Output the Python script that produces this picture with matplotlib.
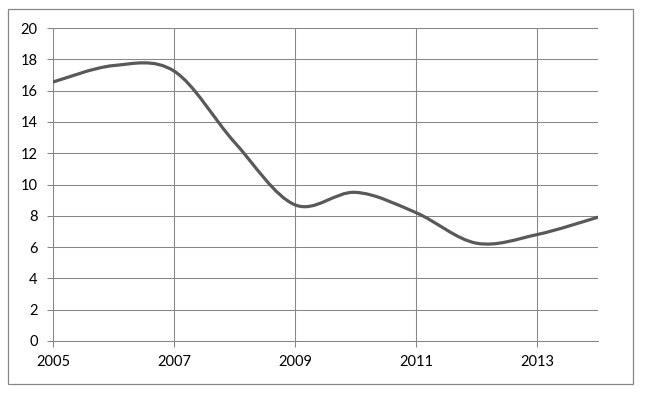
import matplotlib.pyplot as plt
from matplotlib.patches import PathPatch, Rectangle
from matplotlib.path import Path

# data
years = [2005, 2006, 2007, 2008, 2009, 2010, 2011, 2012, 2013, 2014]
values = [16.55, 17.6, 17.25, 12.7, 8.7, 9.5, 8.2, 6.25, 6.8, 7.9]
x_ticks = [2005, 2007, 2009, 2011, 2013]
y_ticks = [0, 2, 4, 6, 8, 10, 12, 14, 16, 18, 20]

grid_color = "#868686"
line_color = "#595959"

plt.rcParams["font.family"] = ["Lato", "DejaVu Sans"]

fig = plt.figure(figsize=(6.45, 3.99), dpi=100)
ax = fig.add_axes([53 / 645, 58 / 399, 544.5 / 645, 313 / 399])

# Excel style smoothed line: bezier segments through every point
pts = list(zip(years, values))
verts = [pts[0]]
codes = [Path.MOVETO]
for i in range(len(pts) - 1):
    p0 = pts[max(i - 1, 0)]
    p1 = pts[i]
    p2 = pts[i + 1]
    p3 = pts[min(i + 2, len(pts) - 1)]
    c1 = (p1[0] + (p2[0] - p0[0]) / 6, p1[1] + (p2[1] - p0[1]) / 6)
    c2 = (p2[0] - (p3[0] - p1[0]) / 6, p2[1] - (p3[1] - p1[1]) / 6)
    verts += [c1, c2, p2]
    codes += [Path.CURVE4] * 3
curve = PathPatch(Path(verts, codes), facecolor="none", edgecolor=line_color,
                  lw=2.3, capstyle="round", joinstyle="round", zorder=3)
ax.add_patch(curve)

ax.set_xlim(2005, 2014)
ax.set_ylim(0, 20)
ax.set_xticks(x_ticks)
ax.set_yticks(y_ticks)
ax.set_xticklabels([str(y) for y in x_ticks])

ax.grid(True, color=grid_color, lw=0.75)
ax.set_axisbelow(True)
for side in ["top", "right"]:
    ax.spines[side].set_visible(False)
for side in ["left", "bottom"]:
    ax.spines[side].set_color(grid_color)
    ax.spines[side].set_linewidth(0.75)

ax.tick_params(axis="both", direction="out", length=4, width=0.75,
               color=grid_color, labelsize=10.5, labelcolor="black")
ax.tick_params(axis="y", pad=7)
ax.tick_params(axis="x", pad=6)

# outer chart border
fig.patches.append(Rectangle((8 / 645, 15 / 399), 625 / 645, 375 / 399,
                             transform=fig.transFigure, fill=False,
                             edgecolor=grid_color, lw=0.9))

fig.savefig("out.png", dpi=100)
